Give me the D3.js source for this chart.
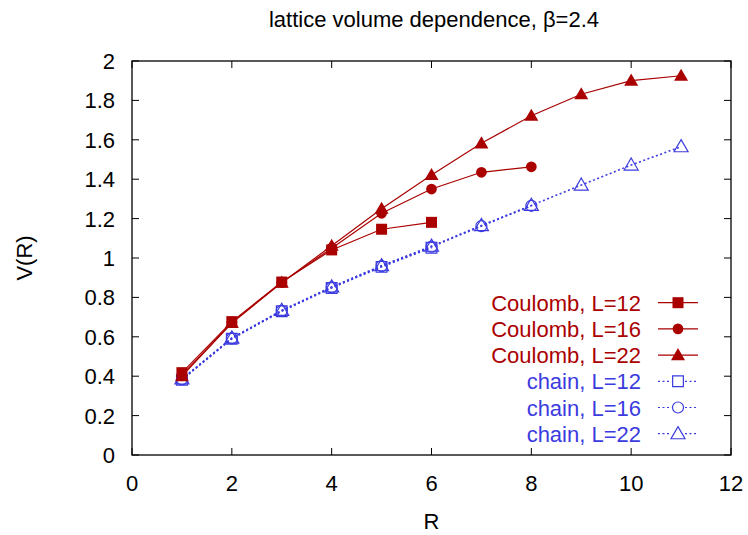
<!DOCTYPE html>
<html>
<head>
<meta charset="utf-8">
<script src="https://cdn.jsdelivr.net/npm/d3@7"></script>
<style>
  body { margin: 0; background: #fff; }
  text { font-family: "Liberation Sans", Arial, sans-serif; }
</style>
</head>
<body>
<svg id="graph" width="748" height="535"></svg>
<script>
var w = 748, h = 535;
var margin = {left: 132, right: 17, top: 61, bottom: 80};
var fs = "22px";

// data
var rCoulomb12 = [1, 2, 3, 4, 5, 6];
var vCoulomb12 = [0.418, 0.677, 0.878, 1.041, 1.146, 1.181];
var rCoulomb16 = [1, 2, 3, 4, 5, 6, 7, 8];
var vCoulomb16 = [0.405, 0.672, 0.876, 1.050, 1.227, 1.350, 1.435, 1.463];
var rCoulomb22 = [1, 2, 3, 4, 5, 6, 7, 8, 9, 10, 11];
var vCoulomb22 = [0.400, 0.670, 0.875, 1.062, 1.250, 1.421, 1.582, 1.722, 1.831, 1.900, 1.925];
var rChain12 = [1, 2, 3, 4, 5, 6];
var vChain12 = [0.382, 0.590, 0.730, 0.848, 0.955, 1.052];
var rChain16 = [1, 2, 3, 4, 5, 6, 7, 8];
var vChain16 = [0.384, 0.592, 0.732, 0.851, 0.959, 1.057, 1.162, 1.265];
var rChain22 = [1, 2, 3, 4, 5, 6, 7, 8, 9, 10, 11];
var vChain22 = [0.386, 0.594, 0.734, 0.853, 0.961, 1.060, 1.165, 1.267, 1.370, 1.472, 1.565];

var xTicks = [0, 2, 4, 6, 8, 10, 12];
var yTicks = [0, 0.2, 0.4, 0.6, 0.8, 1, 1.2, 1.4, 1.6, 1.8, 2];

var red = "#aa0000", blue = "#3b3be0";

var series = [
  {name: "Coulomb, L=12", r: rCoulomb12, v: vCoulomb12, color: red, shape: "square", filled: true},
  {name: "Coulomb, L=16", r: rCoulomb16, v: vCoulomb16, color: red, shape: "circle", filled: true},
  {name: "Coulomb, L=22", r: rCoulomb22, v: vCoulomb22, color: red, shape: "triangle", filled: true},
  {name: "chain, L=12", r: rChain12, v: vChain12, color: blue, shape: "square", filled: false},
  {name: "chain, L=16", r: rChain16, v: vChain16, color: blue, shape: "circle", filled: false},
  {name: "chain, L=22", r: rChain22, v: vChain22, color: blue, shape: "triangle", filled: false}
];

var x = d3.scaleLinear().domain([0, 12]).range([margin.left, w - margin.right]);
var y = d3.scaleLinear().domain([0, 2]).range([h - margin.bottom, margin.top]);

var svg = d3.select("#graph");

// frame
svg.append("rect")
  .attr("x", x(0)).attr("y", y(2))
  .attr("width", x(12) - x(0)).attr("height", y(0) - y(2))
  .style("fill", "none").style("stroke", "black").style("stroke-width", 1.3);

// ticks on all four sides (gnuplot style, mirrored)
var tl = 7;
xTicks.forEach(function(t){
  svg.append("line").attr("x1", x(t)).attr("x2", x(t)).attr("y1", y(0)).attr("y2", y(0) - tl)
    .style("stroke", "black");
  svg.append("line").attr("x1", x(t)).attr("x2", x(t)).attr("y1", y(2)).attr("y2", y(2) + tl)
    .style("stroke", "black");
  svg.append("text").attr("x", x(t)).attr("y", y(0) + 36)
    .attr("text-anchor", "middle").style("font-size", fs).text(t);
});
yTicks.forEach(function(t){
  svg.append("line").attr("x1", x(0)).attr("x2", x(0) + tl).attr("y1", y(t)).attr("y2", y(t))
    .style("stroke", "black");
  svg.append("line").attr("x1", x(12)).attr("x2", x(12) - tl).attr("y1", y(t)).attr("y2", y(t))
    .style("stroke", "black");
  svg.append("text").attr("x", x(0) - 17).attr("y", y(t) + 8)
    .attr("text-anchor", "end").style("font-size", fs).text(d3.format("~g")(t));
});

// titles
svg.append("text").attr("x", 434).attr("y", 27).attr("text-anchor", "middle")
  .style("font-size", fs).text("lattice volume dependence, \u03B2=2.4");
svg.append("text").attr("x", (x(0) + x(12)) / 2).attr("y", 529).attr("text-anchor", "middle")
  .style("font-size", fs).text("R");
svg.append("text").attr("transform", "translate(32," + ((y(0) + y(2)) / 2) + ") rotate(-90)")
  .attr("text-anchor", "middle").style("font-size", fs).text("V(R)");

function symbolFor(s){
  if (s.shape == "square") return d3.symbol().type(d3.symbolSquare).size(s.filled ? 121 : 115)();
  if (s.shape == "circle") return d3.symbol().type(d3.symbolCircle).size(s.filled ? 90 : 95)();
  return d3.symbol().type(d3.symbolTriangle).size(s.filled ? 85 : 85)();
}

function drawMarker(g, s, cx, cy){
  g.append("path")
    .attr("d", symbolFor(s))
    .attr("transform", "translate(" + cx + "," + (s.shape == "triangle" ? cy + 1 : cy) + ")")
    .style("fill", s.filled ? s.color : "none")
    .style("stroke", s.color)
    .style("stroke-width", s.filled ? 0 : 1.2);
}

var line = d3.line().x(function(d){ return x(d[0]); }).y(function(d){ return y(d[1]); });

// draw chain first so Coulomb sits on top
series.slice().reverse().forEach(function(s){
  var pts = s.r.map(function(r, i){ return [r, s.v[i]]; });
  var g = svg.append("g");
  g.append("path").datum(pts).attr("d", line)
    .style("fill", "none").style("stroke", s.color)
    .style("stroke-width", s.filled ? 1.2 : 1.6)
    .style("stroke-dasharray", s.filled ? null : "2,2.5");
  pts.forEach(function(p){ drawMarker(g, s, x(p[0]), y(p[1])); });
});

// legend
var legY0 = 302.7, legDy = 26.2;
series.forEach(function(s, i){
  var ly = legY0 + i * legDy;
  var g = svg.append("g");
  g.append("text").attr("x", 641).attr("y", ly + 8).attr("text-anchor", "end")
    .style("font-size", fs).style("fill", s.color).text(s.name);
  g.append("line").attr("x1", 658).attr("x2", 698).attr("y1", ly).attr("y2", ly)
    .style("stroke", s.color).style("stroke-width", 1.2)
    .style("stroke-dasharray", s.filled ? null : "2,2.5");
  if (!s.filled) {
    g.append("rect").attr("x", 671).attr("y", ly - 7).attr("width", 14).attr("height", 14)
      .style("fill", "white");
  }
  drawMarker(g, s, 678, ly);
});
</script>
</body>
</html>
